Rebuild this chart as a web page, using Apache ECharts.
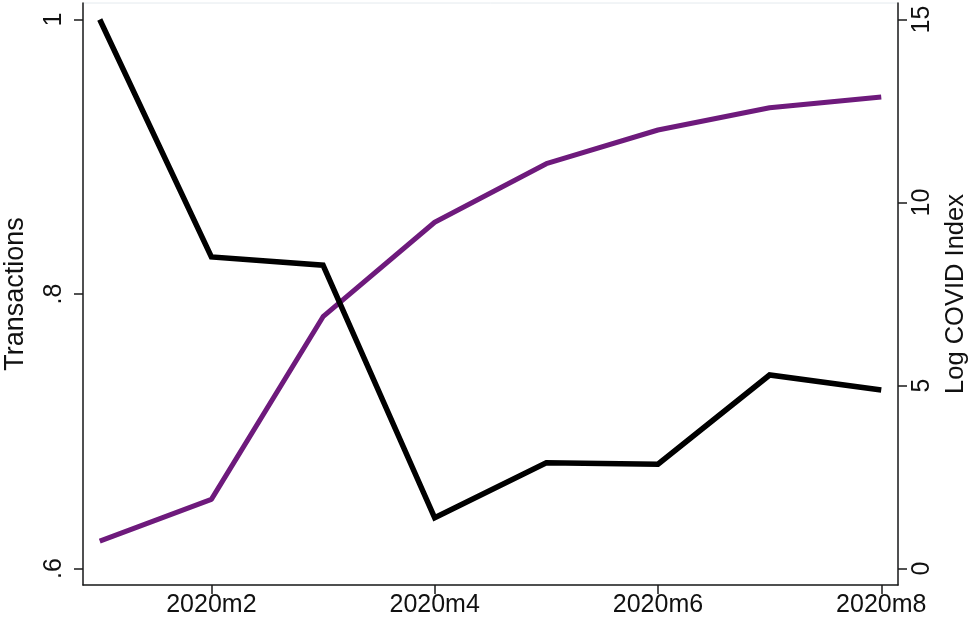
<!DOCTYPE html>
<html>
<head>
<meta charset="utf-8">
<script src="https://cdn.jsdelivr.net/npm/echarts@6/dist/echarts.min.js"></script>
<style>
html,body{margin:0;padding:0;background:#fff;}
#c{width:972px;height:624px;}
</style>
</head>
<body>
<div id="c"></div>
<script>
// Month index (2020m1 .. 2020m8)
const months = [1, 2, 3, 4, 5, 6, 7, 8];
// Transactions (left axis)
const transactions = [1.000, 0.827, 0.821, 0.637, 0.677, 0.676, 0.741, 0.730];
// Log COVID Index (right axis)
const logCovid = [0.75, 1.89, 6.88, 9.46, 11.06, 11.98, 12.59, 12.88];
// Tick labels
const xTicks = [2, 4, 6, 8];
const leftTicks = [0.6, 0.8, 1];
const rightTicks = [0, 5, 10, 15];

const font = "'Liberation Sans', Arial, Helvetica, sans-serif";
const axisLineStyle = { color: '#1a1a1a', width: 1.5 };

const chart = echarts.init(document.getElementById('c'), null, { renderer: 'canvas' });
chart.setOption({
  animation: false,
  backgroundColor: '#ffffff',
  grid: {
    left: 83, right: 74, top: 3, bottom: 39,
    containLabel: false, outerBoundsMode: 'none',
    show: true, borderColor: '#e4eaee', borderWidth: 1, backgroundColor: '#ffffff'
  },
  xAxis: {
    type: 'value', min: 0.85, max: 8.15,
    axisLine: { show: true, onZero: false, lineStyle: axisLineStyle },
    axisTick: { show: true, length: 9, customValues: xTicks, lineStyle: axisLineStyle },
    axisLabel: {
      customValues: xTicks, margin: 8, fontSize: 25, color: '#111', fontFamily: font,
      formatter: v => '2020m' + v
    },
    splitLine: { show: false }
  },
  yAxis: [
    {
      type: 'value', position: 'left', min: 0.588, max: 1.012,
      name: 'Transactions', nameLocation: 'middle', nameRotate: 90, nameGap: 54,
      nameTextStyle: { fontSize: 27, color: '#111', fontFamily: font },
      axisLine: { show: true, lineStyle: axisLineStyle },
      axisTick: { show: true, length: 9, customValues: leftTicks, lineStyle: axisLineStyle },
      axisLabel: {
        customValues: leftTicks, rotate: 90, margin: 16, fontSize: 25, color: '#111', fontFamily: font,
        formatter: v => (v === 1 ? '1' : String(Math.round(v * 10) / 10).replace('0.', '.'))
      },
      splitLine: { show: false }
    },
    {
      type: 'value', position: 'right', min: -0.45, max: 15.45,
      name: 'Log COVID Index', nameLocation: 'middle', nameRotate: 90, nameGap: 40,
      nameTextStyle: { fontSize: 25.5, color: '#111', fontFamily: font },
      axisLine: { show: true, lineStyle: axisLineStyle },
      axisTick: { show: true, length: 9, customValues: rightTicks, lineStyle: axisLineStyle },
      axisLabel: {
        customValues: rightTicks, rotate: 90, margin: 12, fontSize: 25, color: '#111', fontFamily: font,
        formatter: v => String(v)
      },
      splitLine: { show: false }
    }
  ],
  series: [
    {
      type: 'line', yAxisIndex: 0, showSymbol: false, symbol: 'none',
      data: months.map((m, i) => [m, transactions[i]]),
      lineStyle: { color: '#000000', width: 5.5, join: 'miter', cap: 'butt' },
      z: 3
    },
    {
      type: 'line', yAxisIndex: 1, showSymbol: false, symbol: 'none',
      data: months.map((m, i) => [m, logCovid[i]]),
      lineStyle: { color: '#6e1a7c', width: 5, cap: 'butt' },
      z: 2
    }
  ]
});
</script>
</body>
</html>
